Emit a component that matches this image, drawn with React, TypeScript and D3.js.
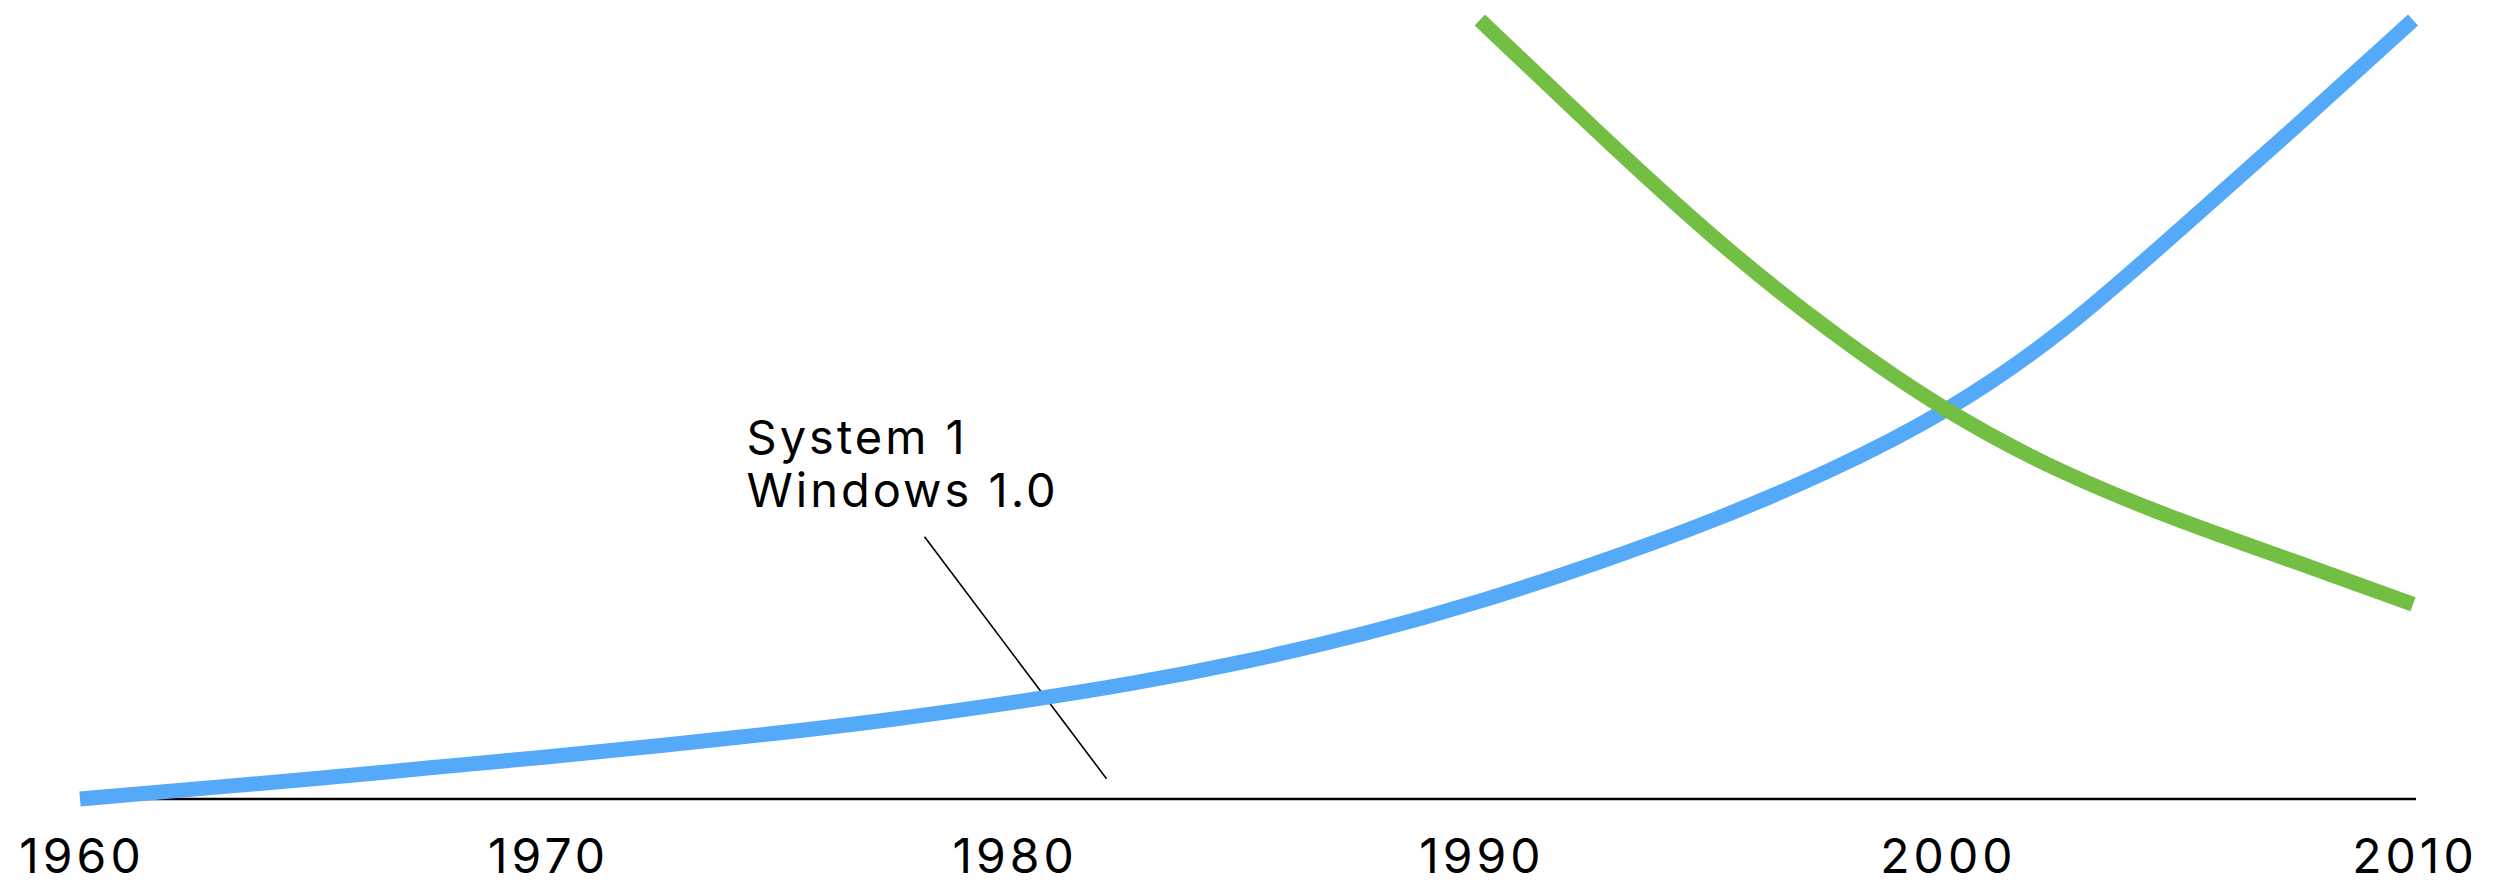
import React from "react";
import * as d3 from "d3";

// Years on the horizontal axis
const tickYears = [1960, 1970, 1980, 1990, 2000, 2010];

// Blue series (rising)
const blueYears = [1960, 1962.5, 1965, 1967.5, 1970, 1972.5, 1975, 1977.5, 1980, 1982.5, 1985, 1987.5, 1990, 1992.5, 1995, 1997.5, 2000, 2002.5, 2005, 2007.5, 2010];
const blueValues = [0, 1.3, 2.6, 4.0, 5.4, 6.9, 8.5, 10.3, 12.4, 14.8, 17.7, 21.2, 25.4, 30.3, 35.8, 42.2, 50.0, 60.3, 73.1, 86.4, 100];

// Green series (falling)
const greenYears = [1990, 1992.5, 1995, 1997.5, 2000, 2002.5, 2005, 2007.5, 2010];
const greenValues = [100, 85.8, 72.2, 60.2, 50.0, 42.0, 35.8, 30.4, 25.0];

// Callout
const noteLines = ["System 1", "Windows 1.0"];
const noteYear = 1982;
const noteValue = 2.6;

const W = 2506;
const H = 884;

export default function App() {
  const x = d3.scaleLinear().domain([1960, 2010]).range([80, 2413]);
  const y = d3.scaleLinear().domain([0, 100]).range([799, 20]);

  const line = d3
    .line<[number, number]>()
    .x((d) => x(d[0]))
    .y((d) => y(d[1]))
    .curve(d3.curveNatural);

  const blue = blueYears.map((yr, i) => [yr, blueValues[i]] as [number, number]);
  const green = greenYears.map((yr, i) => [yr, greenValues[i]] as [number, number]);

  const noteX = x(noteYear);
  const noteY = y(noteValue);
  const calloutTopX = noteX - 182;
  const calloutTopY = noteY - 242;

  const font = "Inter, Lato, sans-serif";
  const tickSpacing = 4;

  return (
    <svg
      width={W}
      height={H}
      viewBox={`0 0 ${W} ${H}`}
      style={{ position: "absolute", left: 0, top: 0, background: "#fff" }}
    >
      {/* baseline axis */}
      <line x1={x(1960)} x2={x(2010) + 3} y1={y(0)} y2={y(0)} stroke="#000" strokeWidth={2.5} />

      {/* tick labels */}
      {tickYears.map((t) => (
        <text
          key={t}
          x={x(t) + tickSpacing / 2}
          y={873}
          textAnchor="middle"
          fontFamily={font}
          fontSize={48}
          letterSpacing={tickSpacing}
          fill="#000"
        >
          {t}
        </text>
      ))}

      {/* callout leader */}
      <line
        x1={calloutTopX}
        y1={calloutTopY}
        x2={noteX}
        y2={noteY}
        stroke="#000"
        strokeWidth={1.6}
      />
      <text fontFamily={font} fontSize={47} letterSpacing={3} fill="#000">
        {noteLines.map((s, i) => (
          <tspan key={s} x={calloutTopX - 178} y={calloutTopY - 83 + i * 53}>
            {s}
          </tspan>
        ))}
      </text>

      {/* series */}
      <path d={line(blue) ?? ""} fill="none" stroke="#54a9f9" strokeWidth={15} />
      <path d={line(green) ?? ""} fill="none" stroke="#72bf44" strokeWidth={15} />
    </svg>
  );
}
